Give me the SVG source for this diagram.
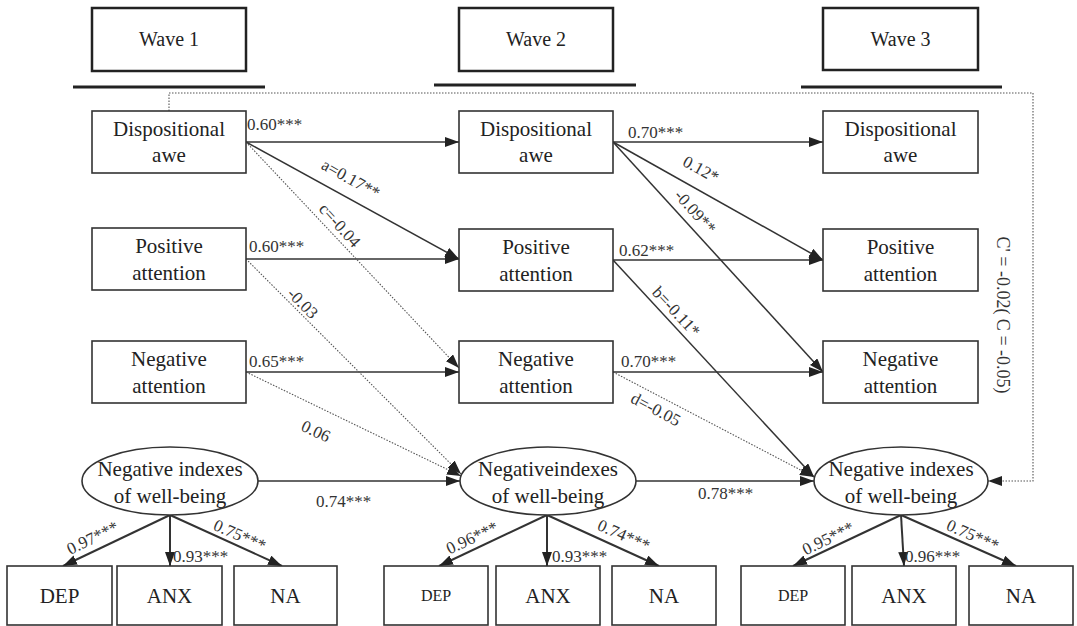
<svg xmlns="http://www.w3.org/2000/svg" width="1077" height="626" viewBox="0 0 1077 626">
<style>
.bg{fill:#ffffff}
.wave{fill:#fff;stroke:#222;stroke-width:2.5}
.uline{stroke:#222;stroke-width:3}
.box{fill:#fff;stroke:#333;stroke-width:1.6}
.ell{fill:#fff;stroke:#333;stroke-width:1.6}
.t{font-size:21px;fill:#222;text-anchor:middle}
.tw{font-size:20px;fill:#222;text-anchor:middle}
.ts{font-size:16px;fill:#222;text-anchor:middle}
.lb{font-size:17px;fill:#333}
.lc{font-size:17px;fill:#333;text-anchor:middle}
.ln{fill:none;stroke:#333;stroke-width:1.5}
.ld{fill:none;stroke:#333;stroke-width:2}
.dt{fill:none;stroke:#555;stroke-width:1.1;stroke-dasharray:1.5 1.5}
</style>
<defs>
<marker id="ah" markerWidth="14" markerHeight="10" refX="14" refY="5" orient="auto" markerUnits="userSpaceOnUse">
<path d="M0,0 L14,5 L0,10 z" fill="#222"/>
</marker>
</defs>
<rect class="bg" x="0" y="0" width="1077" height="626"/>

<g font-family="Liberation Serif, Tinos, DejaVu Serif, Times New Roman, serif">
<g id="headers">
<g id="wave1"><rect class="wave" x="92" y="8" width="154" height="63"/><text class="tw" x="169" y="46">Wave 1</text><line class="uline" x1="73" y1="87" x2="265" y2="87"/></g>
<g id="wave2"><rect class="wave" x="459" y="8" width="154" height="63"/><text class="tw" x="536" y="46">Wave 2</text><line class="uline" x1="434" y1="85" x2="636" y2="85"/></g>
<g id="wave3"><rect class="wave" x="823" y="8" width="155" height="62"/><text class="tw" x="900.5" y="46">Wave 3</text><line class="uline" x1="801" y1="87" x2="1002" y2="87"/></g>
</g>

<g id="connectors">
<line class="ln" x1="246" y1="142" x2="459" y2="142" marker-end="url(#ah)"/>
<line class="ln" x1="613" y1="142" x2="823" y2="142" marker-end="url(#ah)"/>
<line class="ln" x1="246" y1="259" x2="459" y2="259" marker-end="url(#ah)"/>
<line class="ln" x1="613" y1="260" x2="823" y2="260" marker-end="url(#ah)"/>
<line class="ln" x1="246" y1="372" x2="459" y2="372" marker-end="url(#ah)"/>
<line class="ln" x1="613" y1="372" x2="823" y2="372" marker-end="url(#ah)"/>
<line class="ln" x1="258" y1="481" x2="460" y2="481" marker-end="url(#ah)"/>
<line class="ln" x1="636" y1="481" x2="814" y2="481" marker-end="url(#ah)"/>
<line class="ln" x1="246" y1="142" x2="459" y2="259" marker-end="url(#ah)"/>
<line class="dt" x1="246" y1="142" x2="459" y2="368" marker-end="url(#ah)"/>
<line class="dt" x1="246" y1="259" x2="461" y2="474" marker-end="url(#ah)"/>
<line class="dt" x1="246" y1="372" x2="461" y2="476" marker-end="url(#ah)"/>
<line class="ln" x1="613" y1="142" x2="823" y2="260" marker-end="url(#ah)"/>
<line class="ln" x1="613" y1="142" x2="823" y2="372" marker-end="url(#ah)"/>
<line class="ln" x1="613" y1="260" x2="814" y2="477" marker-end="url(#ah)"/>
<line class="dt" x1="613" y1="372" x2="814" y2="477" marker-end="url(#ah)"/>
<path class="dt" d="M169,111 V93 H1033 V481 H988" marker-end="url(#ah)"/>
<line class="ld" x1="170" y1="515" x2="63" y2="566" marker-end="url(#ah)"/>
<line class="ld" x1="170" y1="515" x2="170" y2="566" marker-end="url(#ah)"/>
<line class="ld" x1="170" y1="515" x2="282" y2="566" marker-end="url(#ah)"/>
<line class="ld" x1="547" y1="515" x2="439" y2="566" marker-end="url(#ah)"/>
<line class="ld" x1="547" y1="515" x2="547" y2="566" marker-end="url(#ah)"/>
<line class="ld" x1="547" y1="515" x2="659" y2="566" marker-end="url(#ah)"/>
<line class="ld" x1="901" y1="515" x2="793" y2="566" marker-end="url(#ah)"/>
<line class="ld" x1="901" y1="515" x2="904" y2="566" marker-end="url(#ah)"/>
<line class="ld" x1="901" y1="515" x2="1016" y2="566" marker-end="url(#ah)"/>
</g>

<g id="labels">
<text class="lb" x="247" y="130">0.60***</text>
<text class="lb" x="628" y="138">0.70***</text>
<text class="lb" x="249" y="252">0.60***</text>
<text class="lb" x="619" y="256">0.62***</text>
<text class="lb" x="249" y="367">0.65***</text>
<text class="lb" x="621" y="367">0.70***</text>
<text class="lb" x="316" y="507">0.74***</text>
<text class="lb" x="698" y="499">0.78***</text>
<text class="lb" x="173" y="562">0.93***</text>
<text class="lb" x="552" y="562">0.93***</text>
<text class="lb" x="905" y="562">0.96***</text>
<text class="lc" transform="translate(351,178.5) rotate(29)" dy="0.35em">a=0.17**</text>
<text class="lc" transform="translate(340,225) rotate(48)" dy="0.35em">c=-0.04</text>
<text class="lc" transform="translate(303,303) rotate(45)" dy="0.35em">-0.03</text>
<text class="lc" transform="translate(316,431) rotate(25)" dy="0.35em">0.06</text>
<text class="lc" transform="translate(701,169) rotate(29)" dy="0.35em">0.12*</text>
<text class="lc" transform="translate(695.5,211.5) rotate(48)" dy="0.35em">-0.09**</text>
<text class="lc" transform="translate(676.5,311.5) rotate(47)" dy="0.35em">b=-0.11*</text>
<text class="lc" transform="translate(656,409) rotate(28)" dy="0.35em">d=-0.05</text>
<text class="lc" transform="translate(92.5,537.5) rotate(-26)" dy="0.35em">0.97***</text>
<text class="lc" transform="translate(240,535) rotate(24)" dy="0.35em">0.75***</text>
<text class="lc" transform="translate(472,537.5) rotate(-25)" dy="0.35em">0.96***</text>
<text class="lc" transform="translate(624,535) rotate(24)" dy="0.35em">0.74***</text>
<text class="lc" transform="translate(828,538) rotate(-26)" dy="0.35em">0.95***</text>
<text class="lc" transform="translate(973,535) rotate(24)" dy="0.35em">0.75***</text>
<text class="lc" transform="translate(1003,315) rotate(90)" dy="0.35em" style="font-size:18px">C' = -0.02( C = -0.05)</text>
</g>

<g id="w1_awe"><rect class="box" x="92" y="111" width="154" height="62"/><text class="t" x="169" y="136">Dispositional</text><text class="t" x="169" y="162">awe</text></g>
<g id="w1_pos"><rect class="box" x="92" y="228" width="154" height="62"/><text class="t" x="169" y="253">Positive</text><text class="t" x="169" y="280">attention</text></g>
<g id="w1_neg"><rect class="box" x="92" y="341" width="154" height="62"/><text class="t" x="169" y="366">Negative</text><text class="t" x="169" y="393">attention</text></g>
<g id="w2_awe"><rect class="box" x="459" y="111" width="154" height="62"/><text class="t" x="536" y="136">Dispositional</text><text class="t" x="536" y="162">awe</text></g>
<g id="w2_pos"><rect class="box" x="459" y="229" width="154" height="62"/><text class="t" x="536" y="254">Positive</text><text class="t" x="536" y="281">attention</text></g>
<g id="w2_neg"><rect class="box" x="459" y="341" width="154" height="62"/><text class="t" x="536" y="366">Negative</text><text class="t" x="536" y="393">attention</text></g>
<g id="w3_awe"><rect class="box" x="823" y="111" width="155" height="62"/><text class="t" x="900.5" y="136">Dispositional</text><text class="t" x="900.5" y="162">awe</text></g>
<g id="w3_pos"><rect class="box" x="823" y="229" width="155" height="62"/><text class="t" x="900.5" y="254">Positive</text><text class="t" x="900.5" y="281">attention</text></g>
<g id="w3_neg"><rect class="box" x="823" y="341" width="155" height="62"/><text class="t" x="900.5" y="366">Negative</text><text class="t" x="900.5" y="393">attention</text></g>

<g id="w1_wb"><ellipse class="ell" cx="170" cy="481" rx="88" ry="34"/><text class="t" x="170" y="476">Negative indexes</text><text class="t" x="170" y="503">of well-being</text></g>
<g id="w2_wb"><ellipse class="ell" cx="548" cy="481" rx="88" ry="34"/><text class="t" x="548" y="476">Negativeindexes</text><text class="t" x="548" y="503">of well-being</text></g>
<g id="w3_wb"><ellipse class="ell" cx="901" cy="481" rx="87" ry="34"/><text class="t" x="901" y="476">Negative indexes</text><text class="t" x="901" y="503">of well-being</text></g>

<g id="w1_dep"><rect class="box" x="7" y="566" width="105" height="59"/><text class="t" x="59.5" y="603">DEP</text></g>
<g id="w1_anx"><rect class="box" x="117" y="566" width="105" height="59"/><text class="t" x="169.5" y="603">ANX</text></g>
<g id="w1_na"><rect class="box" x="234" y="566" width="103" height="59"/><text class="t" x="285.5" y="603">NA</text></g>
<g id="w2_dep"><rect class="box" x="384" y="566" width="104" height="59"/><text class="ts" x="436" y="601">DEP</text></g>
<g id="w2_anx"><rect class="box" x="496" y="566" width="104" height="59"/><text class="t" x="548" y="603">ANX</text></g>
<g id="w2_na"><rect class="box" x="612" y="566" width="104" height="59"/><text class="t" x="664" y="603">NA</text></g>
<g id="w3_dep"><rect class="box" x="741" y="566" width="104" height="59"/><text class="ts" x="793" y="601">DEP</text></g>
<g id="w3_anx"><rect class="box" x="852" y="566" width="104" height="59"/><text class="t" x="904" y="603">ANX</text></g>
<g id="w3_na"><rect class="box" x="969" y="566" width="104" height="59"/><text class="t" x="1021" y="603">NA</text></g>
</g>
</svg>
